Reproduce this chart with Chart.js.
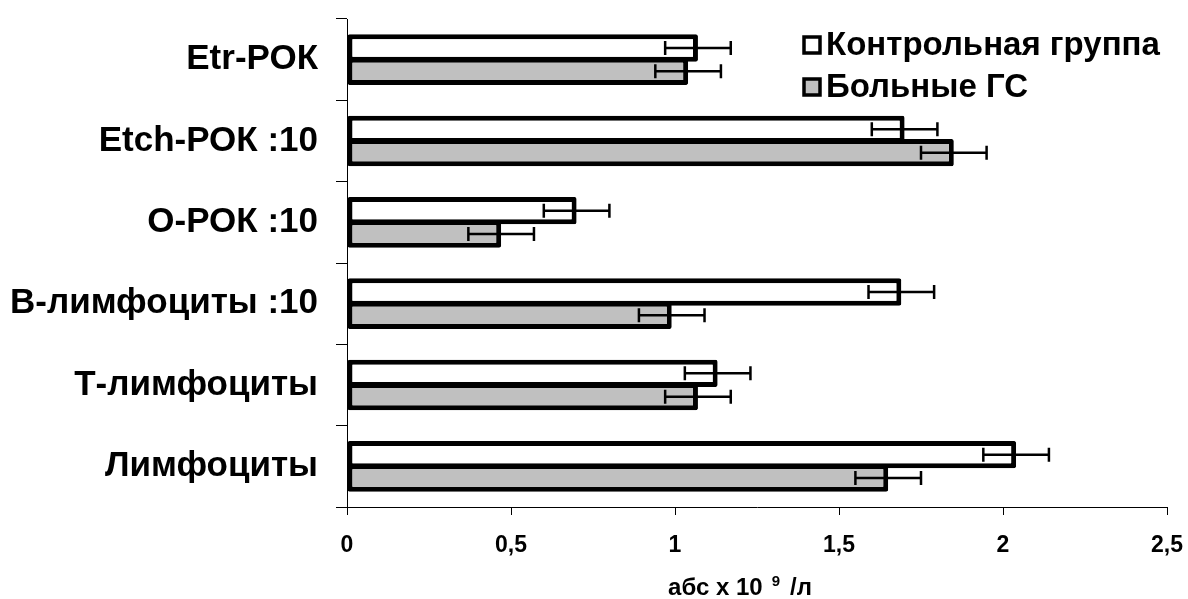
<!DOCTYPE html>
<html>
<head>
<meta charset="utf-8">
<script src="https://cdn.jsdelivr.net/npm/chart.js@4"></script>
<style>
  html, body { margin: 0; padding: 0; background: #fff; }
  #wrap { width: 1188px; height: 599px; }
</style>
</head>
<body>
<div id="wrap"><canvas id="chart"></canvas></div>
<script>
// data
const categories = ['Etr-РОК', 'Etch-РОК :10', 'О-РОК :10', 'В-лимфоциты :10', 'Т-лимфоциты', 'Лимфоциты'];
const controlValues = [1.07, 1.70, 0.70, 1.69, 1.13, 2.04];
const patientValues = [1.04, 1.85, 0.47, 0.99, 1.07, 1.65];
const controlErrors = [0.1, 0.1, 0.1, 0.1, 0.1, 0.1];
const patientErrors = [0.1, 0.1, 0.1, 0.1, 0.1, 0.1];
const xTicks = [0, 0.5, 1, 1.5, 2, 2.5];

const FONT = "'Liberation Sans', Arial, sans-serif";

// error bars drawn through the x scale
const errorBars = {
    id: 'errorBars',
    afterDatasetsDraw(chart) {
        const ctx = chart.ctx;
        const xs = chart.scales.x;
        chart.data.datasets.forEach((ds, i) => {
            const meta = chart.getDatasetMeta(i);
            meta.data.forEach((bar, j) => {
                const v = ds.data[j], e = ds.errors[j];
                const x1 = xs.getPixelForValue(v - e);
                const x2 = xs.getPixelForValue(v + e);
                const y = bar.y;
                ctx.save();
                ctx.strokeStyle = '#000';
                ctx.lineWidth = 2.5;
                ctx.beginPath();
                ctx.moveTo(x1, y); ctx.lineTo(x2, y);
                ctx.moveTo(x1, y - 7); ctx.lineTo(x1, y + 7);
                ctx.moveTo(x2, y - 7); ctx.lineTo(x2, y + 7);
                ctx.stroke();
                ctx.restore();
            });
        });
    }
};

// legend inside the plot, top right
const insideLegend = {
    id: 'insideLegend',
    afterDraw(chart) {
        const ctx = chart.ctx;
        const left = 804, top = 45, gap = 42;
        ctx.save();
        chart.data.datasets.forEach((ds, i) => {
            const cy = top + i * gap;
            ctx.fillStyle = ds.backgroundColor;
            ctx.fillRect(left, cy - 8, 16, 16);
            ctx.strokeStyle = '#000';
            ctx.lineWidth = 3.5;
            ctx.strokeRect(left, cy - 8, 16, 16);
            ctx.fillStyle = '#000';
            ctx.font = 'bold 33px ' + FONT;
            ctx.textBaseline = 'middle';
            ctx.textAlign = 'left';
            ctx.fillText(ds.label, left + 22, cy + 1);
        });
        ctx.restore();
    }
};

// axis title with a raised 9
const axisTitle = {
    id: 'axisTitle',
    afterDraw(chart) {
        const ctx = chart.ctx;
        const parts = [
            { t: 'абс х 10', size: 24, dy: 0, after: 9 },
            { t: '9', size: 15, dy: -9, after: 10 },
            { t: '/л', size: 24, dy: 0, after: 0 }
        ];
        ctx.save();
        ctx.fillStyle = '#000';
        ctx.textBaseline = 'alphabetic';
        ctx.textAlign = 'left';
        let total = 0;
        parts.forEach(p => {
            ctx.font = 'bold ' + p.size + 'px ' + FONT;
            p.w = ctx.measureText(p.t).width;
            total += p.w + p.after;
        });
        let x = 740 - total / 2;
        const base = 595;
        parts.forEach(p => {
            ctx.font = 'bold ' + p.size + 'px ' + FONT;
            ctx.fillText(p.t, x, base + p.dy);
            x += p.w + p.after;
        });
        ctx.restore();
    }
};

new Chart(document.getElementById('chart'), {
    type: 'bar',
    data: {
        labels: categories,
        datasets: [
            {
                label: 'Контрольная группа',
                data: controlValues,
                errors: controlErrors,
                backgroundColor: '#ffffff',
                borderColor: '#000000',
                borderWidth: 5,
                borderSkipped: false,
                borderRadius: 2
            },
            {
                label: 'Больные ГС',
                data: patientValues,
                errors: patientErrors,
                backgroundColor: '#c0c0c0',
                borderColor: '#000000',
                borderWidth: 5,
                borderSkipped: false,
                borderRadius: 2
            }
        ]
    },
    options: {
        indexAxis: 'y',
        responsive: true,
        maintainAspectRatio: false,
        animation: false,
        categoryPercentage: 0.575,
        barPercentage: 1.17,
        layout: { padding: { top: 19, right: 21, left: 0, bottom: 0 } },
        plugins: {
            legend: { display: false },
            tooltip: { enabled: false }
        },
        scales: {
            x: {
                min: 0,
                max: 2.5,
                afterBuildTicks(scale) {
                    scale.ticks = xTicks.map(v => ({ value: v }));
                },
                afterFit(scale) {
                    scale.height = 92;
                    scale.paddingLeft = 0;
                    scale.paddingRight = 0;
                },
                grid: {
                    drawOnChartArea: false,
                    drawTicks: true,
                    tickLength: 8,
                    color: '#000'
                },
                border: { display: true, color: '#000', width: 1 },
                ticks: {
                    color: '#000',
                    padding: 17,
                    font: { family: FONT, size: 23, weight: 'bold' },
                    callback: v => String(v).replace('.', ',')
                }
            },
            y: {
                afterFit(scale) {
                    scale.width = 347;
                    scale.paddingTop = 0;
                    scale.paddingBottom = 0;
                },
                grid: {
                    offset: true,
                    drawOnChartArea: false,
                    drawTicks: true,
                    tickLength: 11,
                    color: '#000'
                },
                border: { display: true, color: '#000', width: 1 },
                ticks: {
                    color: '#000',
                    padding: 18,
                    font: { family: FONT, size: 35, weight: 'bold' }
                }
            }
        }
    },
    plugins: [errorBars, insideLegend, axisTitle]
});
</script>
</body>
</html>
